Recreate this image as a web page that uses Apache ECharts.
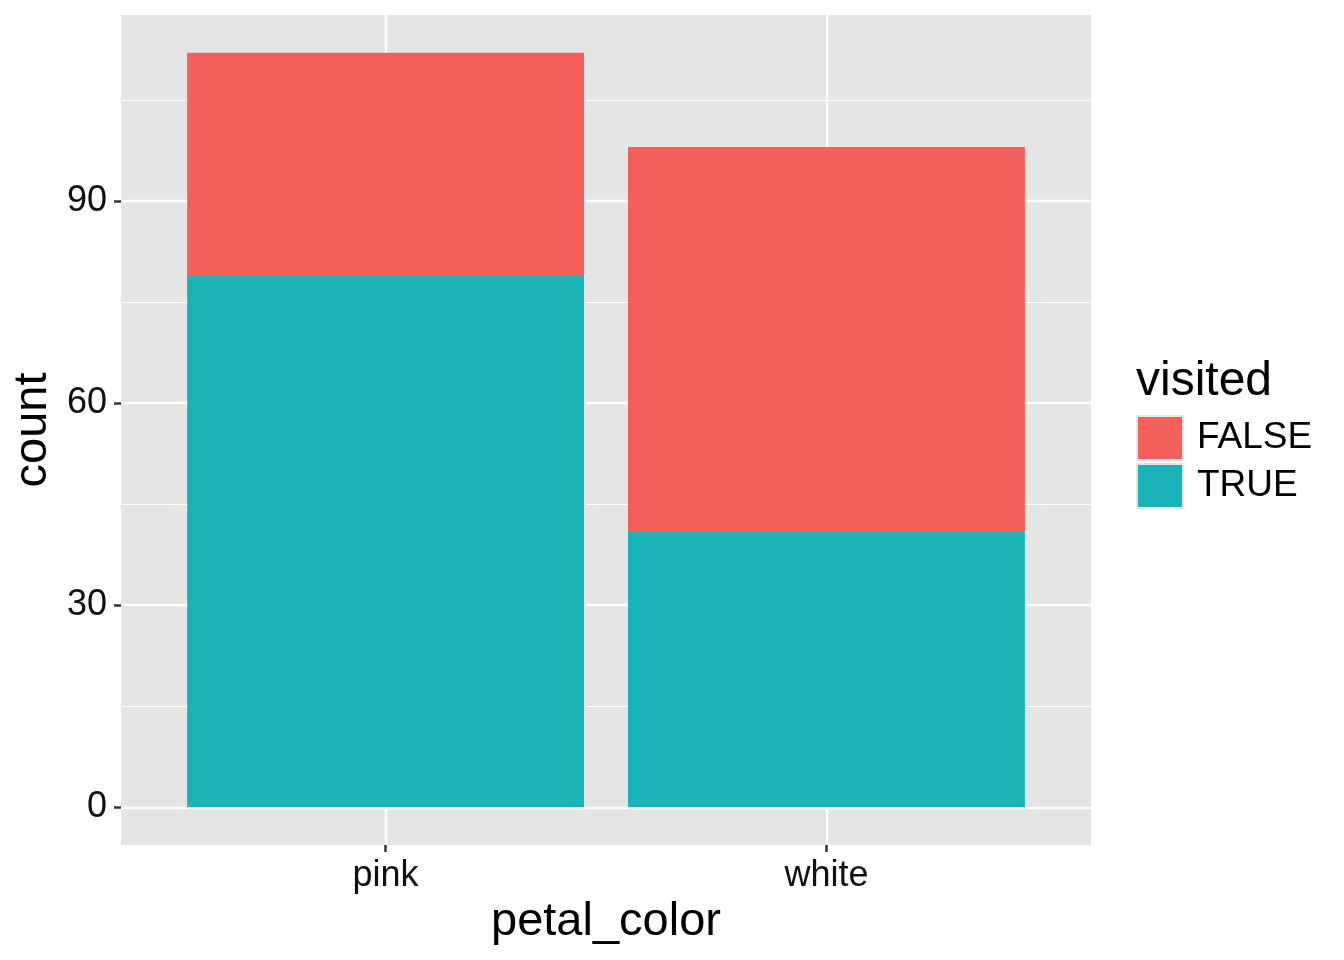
<!DOCTYPE html>
<html>
<head>
<meta charset="utf-8">
<script src="https://cdn.jsdelivr.net/npm/echarts@6/dist/echarts.min.js"></script>
<style>
html,body{margin:0;padding:0;background:#fff;}
#chart{width:1344px;height:960px;}
</style>
</head>
<body>
<div id="chart"></div>
<script>
// ---- data ----
const categories = ['pink', 'white'];
const seriesNames = ['FALSE', 'TRUE'];
const trueCounts = [79, 41];
const falseCounts = [33, 57];
const yTicks = [0, 30, 60, 90];
const yMinorTicks = [15, 45, 75, 105];

// ---- layout ----
const FONT = "'Liberation Sans', Arial, Helvetica, sans-serif";
const gridLeft = 121, gridTop = 15, gridW = 970, gridH = 830;
const xMin = 0.4, xMax = categories.length + 0.6;
const unit = gridW / (xMax - xMin);
const total = categories.map((c, i) => trueCounts[i] + falseCounts[i]);
const maxTotal = Math.max(...total);
const yMin = -0.05 * maxTotal, yMax = maxTotal * 1.05;
const xPos = categories.map((c, i) => i + 1);
const barGridLeft = gridLeft + (0.5 - xMin) * unit;
const barGridW = categories.length * unit;

const chart = echarts.init(document.getElementById('chart'), null, {renderer: 'canvas'});

const gridLines = [];
yTicks.forEach(v => gridLines.push({yAxis: v, lineStyle: {width: 2.4}}));
yMinorTicks.forEach(v => gridLines.push({yAxis: v, lineStyle: {width: 1.2}}));
xPos.forEach(v => gridLines.push({xAxis: v, lineStyle: {width: 2.4}}));

chart.setOption({
  animation: false,
  backgroundColor: '#ffffff',
  textStyle: {fontFamily: FONT},
  title: {
    text: 'visited',
    left: 1136, top: 358,
    padding: 0,
    textStyle: {fontFamily: FONT, fontSize: 48, fontWeight: 'normal', color: '#000'}
  },
  legend: {
    data: seriesNames,
    orient: 'vertical',
    left: 1136, top: 415,
    padding: 0,
    itemGap: 2,
    itemWidth: 46, itemHeight: 44,
    icon: 'rect',
    itemStyle: {borderColor: '#E5E5E5', borderWidth: 2},
    textStyle: {fontFamily: FONT, fontSize: 37, color: '#000', padding: [4, 0, 0, 9]}
  },
  grid: [
    {
      left: gridLeft, top: gridTop, width: gridW, height: gridH,
      show: true, backgroundColor: '#E5E5E5', borderWidth: 0
    },
    {
      left: barGridLeft, top: gridTop, width: barGridW, height: gridH,
      show: false
    }
  ],
  xAxis: [
    {
      gridIndex: 0,
      type: 'value', min: xMin, max: xMax,
      splitLine: {show: false},
      axisLine: {show: false, onZero: false},
      axisTick: {show: true, customValues: xPos, length: 7, lineStyle: {color: '#333', width: 2.5}},
      axisLabel: {
        customValues: xPos, margin: 13,
        fontFamily: FONT, fontSize: 36, color: '#111',
        formatter: v => categories[Math.round(v) - 1] || ''
      },
      name: 'petal_color', nameLocation: 'middle', nameGap: 53,
      nameTextStyle: {fontFamily: FONT, fontSize: 47, color: '#000'}
    },
    {
      gridIndex: 1,
      type: 'category', data: categories,
      show: false
    }
  ],
  yAxis: [
    {
      gridIndex: 0,
      type: 'value', min: yMin, max: yMax,
      splitLine: {show: false},
      axisLine: {show: false, onZero: false},
      axisTick: {show: true, customValues: yTicks, length: 7, lineStyle: {color: '#333', width: 2.5}},
      axisLabel: {
        customValues: yTicks, margin: 14,
        fontFamily: FONT, fontSize: 36, color: '#111'
      },
      name: 'count', nameLocation: 'middle', nameGap: 64, nameRotate: 90,
      nameTextStyle: {fontFamily: FONT, fontSize: 47, color: '#000'}
    },
    {
      gridIndex: 1,
      type: 'value', min: yMin, max: yMax,
      show: false, splitLine: {show: false}
    }
  ],
  series: [
    {
      type: 'line', data: [], silent: true, z: 1,
      xAxisIndex: 0, yAxisIndex: 0,
      markLine: {
        silent: true, symbol: 'none', label: {show: false}, z: 1,
        lineStyle: {color: '#ffffff', type: 'solid'},
        data: gridLines, animation: false
      }
    },
    {
      name: 'TRUE', type: 'bar', stack: 'total', z: 10,
      xAxisIndex: 1, yAxisIndex: 1,
      barWidth: '90%',
      itemStyle: {color: '#19B3B8'},
      data: trueCounts
    },
    {
      name: 'FALSE', type: 'bar', stack: 'total', z: 10,
      xAxisIndex: 1, yAxisIndex: 1,
      barWidth: '90%',
      itemStyle: {color: '#F35F5B'},
      data: falseCounts
    }
  ]
});
</script>
</body>
</html>
